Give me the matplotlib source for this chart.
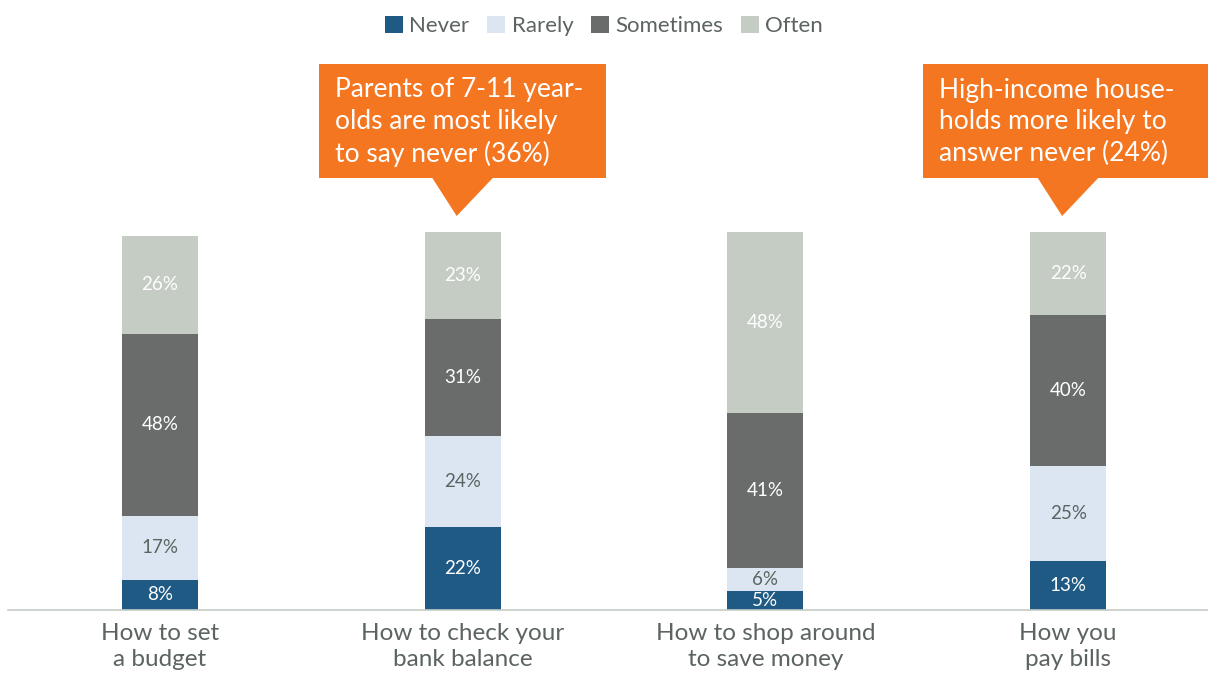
import numpy as np
import matplotlib.pyplot as plt
from matplotlib.patches import Rectangle, Polygon

plt.rcParams["font.family"] = ["Lato", "DejaVu Sans"]

# stacked shares per topic (percent)
categories = ["How to set\na budget", "How to check your\nbank balance",
              "How to shop around\nto save money", "How you\npay bills"]
never = [8, 22, 5, 13]
rarely = [17, 24, 6, 25]
sometimes = [48, 31, 41, 40]
often = [26, 23, 48, 22]

series = [("Never", never, "#1f5a85", "white"),
          ("Rarely", rarely, "#dce6f2", "#5b6461"),
          ("Sometimes", sometimes, "#6a6c6c", "white"),
          ("Often", often, "#c4ccc4", "white")]

callouts = [(1, "Parents of 7-11 year-\nolds are most likely\nto say never (36%)"),
            (3, "High-income house-\nholds more likely to\nanswer never (24%)")]

text_col = "#5b6461"
orange = "#f47621"

fig = plt.figure(figsize=(12.08, 6.73), dpi=100)
ax = fig.add_axes([8 / 1208, 63 / 673, 1200 / 1208, 378 / 673])
ax.set_xlim(-0.502, 3.462)
ax.set_ylim(0, 100)

x = np.arange(len(categories))
width = 0.251
bottom = np.zeros(len(categories))
for name, vals, col, lab_col in series:
    vals = np.array(vals)
    ax.bar(x, vals, width, bottom=bottom, color=col, label=name)
    for xi, b, v in zip(x, bottom, vals):
        ax.text(xi, b + v / 2, f"{v}%", ha="center", va="center",
                fontsize=13.5, color=lab_col)
    bottom += vals

for s in ax.spines.values():
    s.set_visible(False)
ax.axhline(0, color="#c4ccc4", lw=1.2, clip_on=False)
ax.set_yticks([])
ax.set_xticks(x)
ax.set_xticklabels(categories, fontsize=17.5, color=text_col, linespacing=1.3)
ax.tick_params(axis="x", length=0, pad=9)

# orange speech boxes with a pointer down to the bar
trans = ax.transData
for xi, txt in callouts:
    cx_px = trans.transform((xi, 0))[0]
    box_l = cx_px - 144 - (xi == 3) * 1
    fig.patches.append(Rectangle((box_l / 1208, 1 - 178 / 673), 287 / 1208, 114 / 673,
                                 transform=fig.transFigure, color=orange, lw=0))
    fig.patches.append(Polygon([((cx_px - 31) / 1208, 1 - 177 / 673),
                                ((cx_px + 31) / 1208, 1 - 177 / 673),
                                ((cx_px - 6) / 1208, 1 - 216 / 673)],
                               closed=True, transform=fig.transFigure,
                               color=orange, lw=0))
    fig.text((box_l + 16) / 1208, 1 - 122 / 673, txt, ha="left", va="center",
             fontsize=19, color="white", linespacing=1.32)

handles, labels = ax.get_legend_handles_labels()
fig.legend(handles, labels, loc="center", bbox_to_anchor=(0.5, 1 - 26 / 673),
           ncol=4, frameon=False, fontsize=16, handlelength=0.8, handleheight=0.8,
           handletextpad=0.3, columnspacing=0.8, labelcolor=text_col)

fig.savefig("out.png", dpi=100)
